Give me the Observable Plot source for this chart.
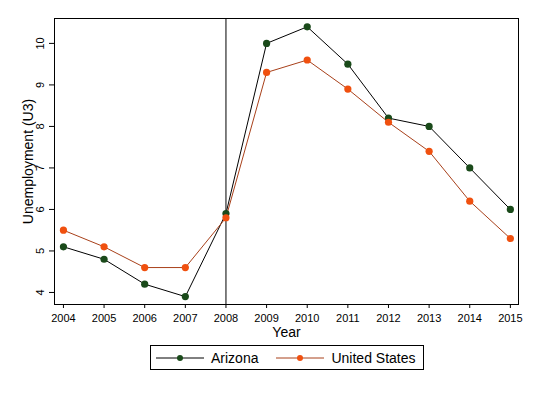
<!DOCTYPE html>
<html>
<head>
<meta charset="utf-8">
<script src="https://cdn.jsdelivr.net/npm/d3@7"></script>
<script src="https://cdn.jsdelivr.net/npm/@observablehq/plot@0.6"></script>
<style>
  body { margin: 0; background: #fff; font-family: "Liberation Sans", Arial, sans-serif; }
  #wrap { position: relative; width: 537px; height: 393px; }
  #legend { position: absolute; left: 150px; top: 345px; width: 272px; height: 23px; border: 1px solid #000;
            display: flex; align-items: center; font-size: 14px; color: #000; }
  .item { display: flex; align-items: center; }
  .item svg { display: block; }
</style>
</head>
<body>
<div id="wrap"><div id="chart"></div><div id="legend"></div></div>
<script>
const years = [2004, 2005, 2006, 2007, 2008, 2009, 2010, 2011, 2012, 2013, 2014, 2015];
const arizona = [5.1, 4.8, 4.2, 3.9, 5.9, 10.0, 10.4, 9.5, 8.2, 8.0, 7.0, 6.0];
const unitedStates = [5.5, 5.1, 4.6, 4.6, 5.8, 9.3, 9.6, 8.9, 8.1, 7.4, 6.2, 5.3];
const yTicks = [4, 5, 6, 7, 8, 9, 10];
const seriesNames = ["Arizona", "United States"];
const markerColors = ["#1a4a1a", "#f0500f"];
const lineColors = ["#000000", "#a8401a"];
const eventYear = [2008];

const rows = [];
years.forEach((y, i) => {
  rows.push({year: y, value: arizona[i], series: seriesNames[0]});
  rows.push({year: y, value: unitedStates[i], series: seriesNames[1]});
});

const chart = Plot.plot({
  width: 537,
  height: 340,
  marginLeft: 54,
  marginRight: 19,
  marginTop: 18,
  marginBottom: 36,
  style: {fontFamily: "'Liberation Sans', Arial, sans-serif", fontSize: "11px", color: "#000", background: "#fff"},
  x: {domain: [2003.78, 2015.2]},
  y: {domain: [3.71, 10.6]},
  marks: [
    Plot.frame({stroke: "#000", strokeWidth: 1}),
    Plot.ruleX(eventYear, {stroke: "#000", strokeWidth: 1}),
    ...seriesNames.map((s, k) => Plot.line(rows.filter(d => d.series === s), {x: "year", y: "value", stroke: lineColors[k], strokeWidth: 1})),
    ...seriesNames.map((s, k) => Plot.dot(rows.filter(d => d.series === s), {x: "year", y: "value", fill: markerColors[k], r: 3.6, stroke: "none"})),
    Plot.axisX(years, {tickFormat: "d", tickSize: 4, tickPadding: 6, label: "Year", labelAnchor: "center", labelArrow: "none", labelOffset: 32, fontSize: 11}),
    Plot.axisY(yTicks, {tickSize: 5, tickPadding: 6, tickRotate: -90, label: "Unemployment (U3)", labelAnchor: "center", labelArrow: "none", labelOffset: 31, fontSize: 11})
  ]
});
document.getElementById("chart").appendChild(chart);
// enlarge axis titles
chart.querySelectorAll("g[aria-label='x-axis label'] text, g[aria-label='y-axis label'] text").forEach(t => t.setAttribute("font-size", "14"));

const legend = document.getElementById("legend");
seriesNames.forEach((s, k) => {
  const item = document.createElement("div");
  item.className = "item";
  item.style.marginLeft = k === 0 ? "5px" : "18px";
  item.innerHTML = `<svg width="48" height="12"><line x1="0" x2="48" y1="6" y2="6" stroke="${lineColors[k]}" stroke-width="1"/><circle cx="24" cy="6" r="3" fill="${markerColors[k]}"/></svg><span style="margin-left:7px">${s}</span>`;
  legend.appendChild(item);
});
</script>
</body>
</html>
